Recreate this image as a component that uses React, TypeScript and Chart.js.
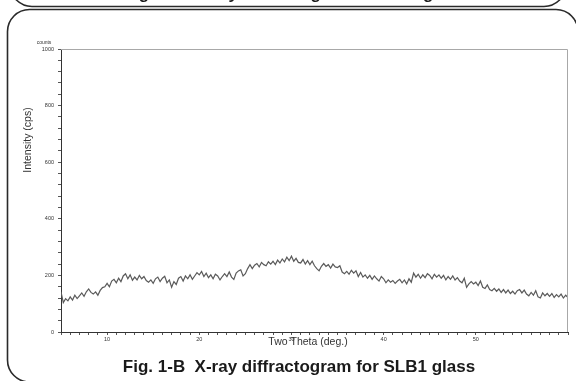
import React, { useEffect, useRef } from "react";
import { Chart, registerables } from "chart.js";

Chart.register(...registerables);

const xStart = 5;
const xStep = 0.25;
const intensity: number[] = [
  142, 104, 118, 110,
  124, 113, 130, 118,
  128, 138, 126, 142,
  152, 140, 134, 142,
  130, 147, 157, 160,
  172, 160, 180, 186,
  174, 190, 178, 198,
  206, 188, 202, 183,
  194, 184, 200, 188,
  196, 182, 176, 184,
  172, 188, 194, 178,
  190, 197, 174, 184,
  158, 178, 168, 190,
  196, 180, 198, 188,
  202, 186, 198, 210,
  202, 214, 196, 208,
  192, 202, 188, 204,
  198, 184, 196, 206,
  196, 212, 194, 186,
  208, 216, 220, 198,
  206, 224, 238, 224,
  236, 242, 230, 246,
  238, 234, 248, 240,
  250, 238, 254, 244,
  258, 248, 264, 252,
  268, 250, 260, 246,
  244, 256, 240, 252,
  238, 250, 234, 224,
  216, 232, 242, 232,
  238, 226, 240, 230,
  228, 234, 212, 206,
  214, 204, 218, 208,
  216, 196, 210, 194,
  202, 190, 200, 186,
  198, 188, 180, 196,
  188, 174, 184, 176,
  182, 172, 180, 186,
  174, 184, 170, 188,
  176, 208, 194, 204,
  190, 202, 192, 206,
  200, 188, 204, 194,
  202, 190, 200, 184,
  196, 186, 198, 184,
  192, 180, 174, 190,
  158, 170, 178, 170,
  176, 164, 180, 158,
  154, 166, 150, 146,
  154, 144, 152, 140,
  150, 138, 148, 136,
  144, 134, 146, 150,
  138, 148, 134, 128,
  140, 130, 146, 124,
  120, 138, 128, 136,
  126, 136, 122, 132,
  124, 134, 120, 130,
  122,
];

const xMin = 5;
const xMax = 60;
const yMin = 0;
const yMax = 1000;
const yLabelEvery = 200;
const xLabelEvery = 10;

const yTitle = "Intensity (cps)";
const xTitle = "Two Theta (deg.)";
const unitLabel = "counts";
const caption = "Fig. 1-B  X-ray diffractogram for SLB1 glass";
const prevCaption = "Fig. 1-A  X-ray diffractogram for SLB glass";

const decorPlugin = {
  id: "decor",
  afterDraw(chart: any) {
    const ctx = chart.ctx as CanvasRenderingContext2D;
    const ca = chart.chartArea;
    ctx.save();
    ctx.strokeStyle = "#a8a8a8";
    ctx.lineWidth = 1;
    ctx.beginPath();
    ctx.moveTo(ca.left, ca.top + 0.5);
    ctx.lineTo(ca.right - 0.5, ca.top + 0.5);
    ctx.lineTo(ca.right - 0.5, ca.bottom);
    ctx.stroke();

    ctx.fillStyle = "#333";
    ctx.font = "5px Arial, 'Liberation Sans', sans-serif";
    ctx.textAlign = "center";
    ctx.textBaseline = "middle";
    ctx.fillText(unitLabel, 44, 43);

    ctx.font = "10.5px Arial, 'Liberation Sans', sans-serif";
    ctx.save();
    ctx.translate(28, 140);
    ctx.rotate(-Math.PI / 2);
    ctx.fillText(yTitle, 0, 0);
    ctx.restore();

    ctx.font = "10.5px Arial, 'Liberation Sans', sans-serif";
    ctx.fillText(xTitle, 308, 342);

    ctx.fillStyle = "#1a1a1a";
    ctx.font = "bold 17px Arial, 'Liberation Sans', sans-serif";
    ctx.fillText(caption, 299, 367);

    ctx.textBaseline = "alphabetic";
    ctx.fillText(prevCaption, 295, -1);

    ctx.strokeStyle = "#2a2a2a";
    ctx.lineWidth = 1.6;
    const r = 22;
    ctx.beginPath();
    ctx.moveTo(10, -16);
    ctx.arcTo(10, 6.5, 10 + r, 6.5, r);
    ctx.lineTo(566 - r, 6.5);
    ctx.arcTo(566, 6.5, 566, -16, r);
    ctx.stroke();
    ctx.beginPath();
    ctx.moveTo(7.5 + r, 9.5);
    ctx.lineTo(578 - r, 9.5);
    ctx.arcTo(578, 9.5, 578, 9.5 + r, r);
    ctx.lineTo(578, 395);
    ctx.moveTo(7.5, 360);
    ctx.arcTo(7.5, 382, 7.5 + r, 382, r);
    ctx.moveTo(7.5, 360);
    ctx.lineTo(7.5, 9.5 + r);
    ctx.arcTo(7.5, 9.5, 7.5 + r, 9.5, r);
    ctx.stroke();
    ctx.restore();
  },
};

export default function App() {
  const ref = useRef<HTMLCanvasElement | null>(null);
  useEffect(() => {
    if (!ref.current) return;
    const points = intensity.map((v, i) => ({ x: xStart + i * xStep, y: v }));
    const tickFont = { size: 5.5, family: "Arial, 'Liberation Sans', sans-serif" };
    const chart = new Chart(ref.current, {
      type: "line",
      data: {
        datasets: [
          {
            data: points,
            borderColor: "#5a5a5a",
            borderWidth: 1.2,
            pointRadius: 0,
            tension: 0,
            fill: false,
          },
        ],
      },
      options: {
        responsive: false,
        animation: false,
        events: [],
        layout: { padding: { left: 0, top: 49, right: 8, bottom: 0 } },
        plugins: { legend: { display: false }, tooltip: { enabled: false } },
        scales: {
          x: {
            type: "linear",
            min: xMin,
            max: xMax,
            afterFit: (s: any) => {
              s.height = 49;
            },
            afterBuildTicks: (s: any) => {
              const t = [];
              for (let v = xMin; v <= xMax; v++) t.push({ value: v });
              s.ticks = t;
            },
            ticks: {
              autoSkip: false,
              maxRotation: 0,
              padding: 1,
              color: "#333",
              font: tickFont,
              callback: (v: any) =>
                Number(v) % xLabelEvery === 0 && Number(v) < xMax ? String(v) : "",
            },
            grid: { drawOnChartArea: false, drawTicks: true, tickLength: 3, color: "#555" },
            border: { display: true, color: "#333", width: 1 },
          },
          y: {
            type: "linear",
            min: yMin,
            max: yMax,
            afterFit: (s: any) => {
              s.width = 61;
            },
            afterBuildTicks: (s: any) => {
              const t = [];
              for (let v = yMin; v <= yMax; v += 40) t.push({ value: v });
              s.ticks = t;
            },
            ticks: {
              autoSkip: false,
              padding: 4,
              color: "#333",
              font: tickFont,
              callback: (v: any) => (Number(v) % yLabelEvery === 0 ? String(v) : ""),
            },
            grid: { drawOnChartArea: false, drawTicks: true, tickLength: 3, color: "#555" },
            border: { display: true, color: "#333", width: 1 },
          },
        },
      },
      plugins: [decorPlugin],
    } as any);
    return () => chart.destroy();
  }, []);
  return (
    <div style={{ position: "fixed", left: 0, top: 0, width: 576, height: 381, background: "#fff" }}>
      <canvas ref={ref} width={576} height={381} style={{ width: 576, height: 381, display: "block" }} />
    </div>
  );
}
